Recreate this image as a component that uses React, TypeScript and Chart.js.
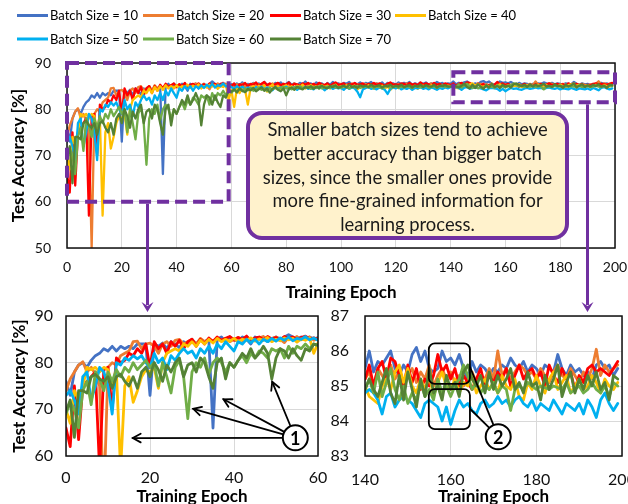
import React, { useEffect, useRef } from "react";
import { Chart, registerables } from "chart.js";

Chart.register(...registerables);
Chart.defaults.font.family = "Lato, 'Open Sans', sans-serif";

const seriesNames = [
  "Batch Size = 10",
  "Batch Size = 20",
  "Batch Size = 30",
  "Batch Size = 40",
  "Batch Size = 50",
  "Batch Size = 60",
  "Batch Size = 70",
];
const seriesColors = ["#4472C4", "#ED7D31", "#FF0000", "#FFC000", "#00B0F0", "#70AD47", "#548235"];

// test accuracy per epoch (epochs 0..199)
const acc10 = [
  76, 73, 78, 79.5, 80, 79, 80.5, 81.5, 82, 83,
  82.5, 83.5, 82.5, 83.5, 83, 83.5, 83, 84, 84, 84,
  73, 84, 83.5, 84.2, 83, 84.5, 84, 83.2, 84.5, 84,
  85, 84, 85, 84.5, 85, 66, 85, 85.5, 84.5, 85.5,
  85, 84.5, 85.5, 85, 84, 85.5, 85, 85.5, 84.5, 85,
  85.5, 85, 85.5, 86, 85.5, 85, 85.5, 85, 85.5, 85,
  85.4, 85.0, 85.6, 85.2, 85.8, 84.9, 85.5, 85.3, 85.7, 85.1,
  85.6, 85.2, 85.9, 85.3, 85.5, 85.0, 85.7, 85.4, 85.8, 85.2,
  85.5, 85.9, 85.3, 85.6, 85.1, 85.7, 85.4, 86.0, 85.3, 85.6,
  85.2, 85.8, 85.4, 85.6, 85.0, 85.7, 85.3, 85.9, 85.4, 85.6,
  85.3, 85.7, 85.5, 85.9, 85.2, 85.6, 85.4, 85.8, 85.3, 85.7,
  85.5, 85.9, 85.3, 85.6, 85.4, 85.8, 85.2, 85.7, 85.5, 85.6,
  85.3, 85.8, 85.4, 85.7, 85.5, 85.9, 85.3, 85.6, 85.4, 85.7,
  85.5, 85.8, 85.3, 85.6, 85.4, 85.9, 85.5, 85.7, 85.3, 85.6,
  85.5, 86.0, 85.4, 85.7, 85.6, 85.8, 86.0, 85.5, 85.3, 85.6,
  85.4, 85.9, 86.1, 85.7, 86.0, 85.5, 85.4, 85.5, 86.0, 85.7,
  85.8, 85.6, 85.9, 85.5, 85.2, 85.7, 85.4, 85.6, 85.5, 85.3,
  85.5, 85.4, 85.6, 85.5, 85.8, 85.6, 85.5, 85.7, 85.4, 85.6,
  85.5, 85.3, 85.6, 85.5, 85.4, 85.9, 85.5, 85.3, 85.6, 85.4,
  85.5, 85.3, 85.4, 85.2, 85.6, 85.7, 85.5, 85.6, 85.3, 85.5,
];
const acc20 = [
  74, 76.5, 78, 79.5, 80.2, 78, 79, 77.5, 75, 50,
  79, 80, 79.5, 81.5, 82, 82.5, 84.5, 84.6, 83, 84,
  84.2, 83.5, 82, 84, 84.5, 83.5, 84.8, 85, 84, 84.5,
  85, 84, 85.2, 84.5, 85, 84.6, 85.3, 84.8, 85.2, 84.5,
  85, 85.4, 84.7, 85.5, 85, 84.8, 85.3, 85.6, 84.8, 85.2,
  85.5, 85, 84.3, 85.4, 85.1, 85.6, 84.9, 85.3, 85.5, 84.8,
  85.2, 84.6, 85.4, 85.0, 85.5, 84.9, 85.3, 85.1, 85.6, 85.0,
  85.4, 84.8, 85.5, 85.2, 85.0, 85.6, 85.1, 85.3, 84.9, 85.5,
  85.2, 85.4, 84.9, 85.6, 85.1, 85.3, 85.0, 85.5, 85.2, 84.8,
  85.4, 85.1, 85.6, 85.0, 85.3, 85.5, 84.9, 85.2, 85.4, 85.1,
  85.5, 85.0, 85.3, 85.2, 85.6, 84.9, 85.4, 85.1, 85.3, 85.5,
  85.0, 85.4, 85.2, 85.6, 85.1, 85.3, 84.9, 85.5, 85.2, 85.4,
  85.1, 85.5, 85.0, 85.3, 85.6, 85.2, 85.4, 84.9, 85.3, 85.5,
  85.2, 85.0, 85.4, 85.6, 85.1, 85.3, 85.5, 85.0, 85.4, 85.2,
  85.2, 85.4, 85.0, 85.5, 85.3, 85.1, 85.6, 85.2, 85.4, 84.9,
  85.3, 85.5, 85.1, 85.4, 85.2, 85.6, 85.0, 85.3, 85.5, 85.2,
  85.4, 85.1, 85.3, 85.0, 85.2, 85.4, 85.1, 85.3, 85.2, 85.5,
  85.2, 86.0, 85.3, 85.5, 85.2, 85.4, 85.6, 85.5, 85.3, 85.4,
  85.2, 85.5, 85.3, 85.1, 85.4, 85.6, 85.3, 85.2, 85.5, 85.3,
  85.1, 85.4, 85.2, 85.5, 86.05, 85.3, 85.6, 85.4, 85.5, 85.6,
];
const acc30 = [
  66, 62, 75, 63.5, 75, 76, 77, 78, 57, 78.5,
  79, 70, 81, 80, 80.5, 82, 81.5, 83, 82, 84,
  79, 84.5, 83, 84, 82, 84.5, 83.5, 84.8, 83, 84.5,
  85, 83.5, 85, 84, 85.3, 84.5, 85.5, 84.8, 85.2, 85.6,
  84.8, 85.4, 85, 85.7, 84.6, 85.3, 85.5, 84.9, 85.6, 85.1,
  85.4, 84.8, 85.6, 85.2, 85.5, 84.9, 85.4, 85.7, 85.1, 85.3,
  85.0, 85.6, 84.6, 85.4, 85.2, 85.7, 85.0, 85.5, 85.3, 85.8,
  85.1, 85.5, 85.9, 85.2, 85.6, 85.0, 85.4, 85.7, 85.2, 85.5,
  85.3, 85.8, 85.1, 85.5, 85.4, 85.0, 85.6, 85.3, 85.7, 85.2,
  85.5, 85.1, 85.7, 85.4, 85.2, 85.6, 85.0, 85.5, 85.8, 85.3,
  85.4, 85.6, 85.1, 85.5, 85.3, 85.7, 85.2, 85.4, 85.6, 85.0,
  85.5, 85.3, 85.7, 85.2, 85.6, 85.4, 85.1, 85.5, 85.8, 85.3,
  85.4, 85.2, 85.6, 85.5, 85.1, 85.7, 85.3, 85.5, 85.2, 85.8,
  85.3, 85.6, 85.4, 85.1, 85.7, 85.3, 85.5, 85.2, 85.6, 85.4,
  85.2, 85.6, 85.0, 85.5, 85.7, 85.2, 85.8, 85.7, 85.3, 85.0,
  85.6, 85.1, 85.5, 84.9, 85.2, 85.0, 85.3, 85.9, 85.4, 85.6,
  85.2, 85.5, 85.0, 85.3, 85.1, 84.9, 85.2, 85.5, 85.0, 85.3,
  85.1, 85.4, 85.2, 85.5, 85.0, 85.3, 85.6, 85.2, 85.4, 85.5,
  85.2, 85.4, 85.0, 85.6, 85.3, 85.1, 85.5, 85.2, 85.4, 84.9,
  85.3, 85.1, 85.5, 85.6, 85.4, 85.5, 85.4, 85.3, 85.5, 85.7,
];
const acc40 = [
  70, 67, 74, 72, 75, 79, 78.5, 79, 78, 79,
  78.5, 75, 78, 57, 75, 77, 71.5, 74, 77, 78.5,
  78, 79, 74.5, 80, 82, 82.5, 83, 82.5, 84, 83.5,
  84.5, 83.5, 84.8, 84, 85, 84.2, 85.2, 84.5, 85, 84.6,
  85.2, 84.5, 85, 84.8, 85.3, 84.6, 85.1, 84.8, 85.4, 84.5,
  85, 84.7, 85.3, 84.9, 85.2, 84.4, 85.1, 84.8, 85.3, 82,
  84.2, 80.5, 84.5, 83.5, 84.8, 84.2, 81, 84.6, 85, 84.4,
  85.1, 84.7, 85.2, 83.8, 84.9, 85.3, 84.5, 85, 84.2, 84.9,
  85.2, 84.6, 85.0, 84.3, 85.1, 84.8, 85.3, 84.5, 84.9, 85.2,
  84.7, 85.0, 84.4, 85.2, 84.8, 85.1, 84.5, 84.9, 85.3, 84.6,
  85.0, 84.7, 85.2, 84.5, 84.9, 85.1, 84.3, 84.8, 85.0, 84.6,
  85.2, 84.8, 84.4, 85.0, 84.7, 85.1, 84.5, 84.9, 84.2, 84.8,
  85.0, 84.6, 85.2, 84.8, 84.5, 85.0, 84.7, 85.1, 84.4, 84.9,
  85.1, 84.7, 84.9, 85.2, 84.6, 84.8, 85.0, 84.5, 84.9, 85.1,
  85.0, 84.7, 84.6, 84.5, 85.0, 85.2, 84.9, 85.4, 85.6, 85.1,
  85.5, 85.0, 84.8, 85.2, 84.9, 85.3, 84.7, 85.1, 85.4, 85.0,
  84.9, 85.2, 84.8, 85.1, 85.0, 85.3, 84.8, 85.0, 85.2, 84.9,
  85.1, 84.8, 85.3, 85.0, 84.9, 85.2, 84.7, 84.6, 85.1, 84.9,
  85.3, 85.0, 84.8, 85.2, 85.4, 84.9, 85.1, 85.3, 84.8, 85.0,
  85.2, 84.9, 85.0, 85.3, 85.1, 84.8, 85.2, 85.0, 84.9, 85.1,
];
const acc50 = [
  73, 74, 72, 69, 77, 78, 72, 75, 79, 78,
  75, 69, 80, 79.5, 81, 80.5, 81.5, 80.8, 81.5, 80,
  79, 82, 80, 81, 78.5, 81.5, 80.5, 82, 83, 82,
  82.5, 81, 83, 82, 83.5, 82, 84, 83, 84.5, 83.5,
  82.5, 84.5, 84, 85, 84.3, 85, 84, 85, 84.5, 85.2,
  84.6, 85.3, 84.8, 85.5, 84.7, 85.2, 85, 85.6, 84.9, 85.3,
  84.8, 84.4, 85.0, 84.5, 84.9, 84.3, 84.7, 84.6, 84.2, 84.8,
  84.5, 84.9, 84.3, 84.7, 84.6, 84.1, 84.8, 84.4, 84.7, 84.5,
  84.9, 84.3, 84.6, 84.8, 84.2, 84.7, 84.5, 84.9, 84.4, 84.6,
  84.3, 84.8, 84.5, 84.7, 84.1, 84.6, 84.8, 84.4, 84.7, 84.5,
  84.6, 84.2, 84.8, 84.4, 84.7, 84.5, 83.8, 82.6, 84.3, 84.6,
  84.8, 84.4, 84.6, 84.3, 84.7, 84.5, 84.2, 83.3, 84.4, 84.7,
  84.5, 84.8, 84.3, 84.6, 84.4, 84.7, 84.2, 84.6, 84.5, 84.8,
  84.4, 84.6, 84.3, 84.7, 84.5, 84.2, 84.6, 84.4, 84.7, 84.5,
  84.8, 84.9, 84.8, 84.6, 84.2, 84.7, 84.8, 84.4, 84.6, 84.7,
  84.6, 84.5, 84.3, 84.1, 84.5, 84.6, 84.5, 84.4, 84.0, 84.4,
  83.9, 84.3, 84.6, 84.4, 84.5, 84.3, 84.2, 84.5, 84.6, 84.4,
  84.5, 84.7, 84.5, 84.6, 84.4, 84.6, 84.7, 84.5, 84.4, 84.6,
  84.3, 84.5, 84.4, 84.3, 84.6, 84.4, 84.2, 84.5, 84.4, 84.3,
  84.5, 84.2, 84.6, 84.4, 84.1, 84.6, 84.8, 84.5, 84.3, 84.5,
];
const acc60 = [
  69, 71.5, 70, 66, 74, 76, 71, 78, 76.5, 74,
  78, 76, 78.5, 77, 79, 78, 80, 78.5, 79.5, 80.5,
  79, 80, 75, 80, 77, 73.5, 79, 80.5, 77, 68,
  78, 80, 79, 81, 77.5, 80, 81, 80, 78, 80,
  79, 80.5, 81.5, 80, 82, 81, 82.5, 82, 81, 83,
  82.5, 83, 81, 83.5, 82, 83.5, 83, 84, 83, 84,
  83.6, 84.2, 83.8, 84.4, 83.9, 84.5, 84.1, 84.6, 84.0, 84.3,
  84.7, 84.2, 84.5, 84.0, 84.6, 84.3, 84.8, 84.4, 84.6, 84.9,
  84.5, 84.7, 84.3, 84.8, 84.6, 85.0, 84.5, 84.7, 84.9, 84.4,
  84.8, 84.6, 85.0, 84.5, 84.7, 84.9, 84.6, 85.1, 84.7, 84.8,
  84.6, 85.0, 84.8, 84.5, 84.9, 84.7, 85.1, 84.6, 84.8, 85.0,
  84.7, 84.9, 84.6, 85.0, 84.8, 84.5, 84.9, 85.1, 84.7, 84.8,
  85.0, 84.6, 84.9, 84.7, 85.1, 84.8, 84.6, 85.0, 84.9, 84.7,
  84.9, 85.1, 84.7, 84.8, 85.0, 84.6, 84.9, 85.2, 84.8, 85.0,
  84.9, 85.2, 84.8, 85.4, 84.7, 85.1, 85.5, 84.9, 84.6, 85.0,
  84.5, 84.8, 84.6, 85.1, 84.7, 84.9, 84.6, 85.2, 84.8, 85.0,
  84.7, 85.0, 85.2, 85.6, 85.3, 84.9, 85.1, 84.8, 85.0, 84.9,
  85.1, 84.8, 85.0, 84.9, 84.3, 84.9, 85.0, 84.9, 85.1, 85.0,
  84.9, 85.0, 84.95, 84.9, 85.0, 84.95, 84.9, 85.1, 84.8, 84.9,
  85.0, 84.8, 84.9, 85.1, 84.9, 84.8, 85.0, 84.7, 85.1, 85.0,
];
const acc70 = [
  69.5, 72, 64, 74, 74, 73.5, 77, 77.5, 76.5, 76,
  77, 74.5, 77, 77.5, 76, 75, 77, 74.5, 78, 79,
  77, 80, 78.5, 76, 79.5, 78, 80, 81, 77, 79.5,
  80, 78, 81, 80, 77, 74.5, 80, 81, 76.5, 80,
  79, 80.5, 82, 81, 83, 81, 82, 83.5, 82, 76.5,
  81, 83, 82.5, 81, 83, 81.5, 80.5, 83, 82.5, 84,
  83.8, 84.3, 83.6, 84.5, 84.0, 83.7, 84.4, 84.1, 84.6, 83.9,
  84.3, 84.7, 84.0, 84.5, 83.6, 84.4, 84.8, 84.2, 83.9, 84.5,
  83.0, 84.4, 84.7, 84.2, 84.9, 84.5, 84.3, 84.8, 84.6, 85.0,
  84.4, 84.9, 84.6, 85.1, 84.7, 84.5, 85.0, 84.8, 85.2, 84.6,
  84.9, 85.1, 84.7, 85.3, 84.8, 85.0, 84.6, 85.2, 84.9, 85.1,
  84.8, 85.3, 84.9, 85.0, 85.2, 84.7, 85.1, 84.9, 85.3, 84.8,
  85.1, 84.9, 85.3, 84.8, 85.0, 85.2, 84.7, 85.1, 84.9, 85.3,
  84.8, 85.2, 85.0, 84.9, 85.3, 84.7, 85.1, 85.0, 85.2, 84.9,
  84.9, 85.2, 84.9, 84.7, 85.1, 85.5, 84.8, 84.5, 85.3, 84.6,
  85.4, 84.9, 84.4, 85.2, 84.7, 85.5, 84.8, 85.0, 84.6, 85.3,
  84.9, 85.1, 84.7, 85.4, 85.6, 85.2, 85.0, 85.3, 84.8, 85.4,
  84.9, 85.3, 85.0, 85.2, 85.5, 84.9, 85.1, 84.8, 85.4, 85.0,
  85.1, 84.6, 85.3, 84.9, 85.2, 85.6, 84.7, 85.1, 85.4, 84.8,
  85.2, 84.9, 85.3, 85.0, 85.4, 84.9, 85.1, 84.6, 85.3, 85.2,
];
const seriesValues = [acc10, acc20, acc30, acc40, acc50, acc60, acc70];

const boxLines = [
  "Smaller batch sizes tend to achieve",
  "better accuracy than bigger batch",
  "sizes, since the smaller ones provide",
  "more fine-grained information for",
  "learning process.",
];

// annotation anchors, in data units
const zoomBoxes = [
  { x0: 0, x1: 59, y0: 90, y1: 60, arrowX: 29.3 },
  { x0: 141, x1: 200, y0: 88, y1: 81.5, arrowX: 189.8 },
];
const mark1 = { x: 54.6, y: 63.9 };
const mark1Targets = [
  { x: 15.9, y: 63.85 },
  { x: 30.3, y: 70.1 },
  { x: 37.5, y: 72.15 },
  { x: 49.1, y: 75.9 },
];
const mark2 = { x: 171.1, y: 83.55 };
const mark2Boxes = [
  { x0: 154.9, x1: 164.5, y0: 86.22, y1: 85.06, linkY: 85.55 },
  { x0: 154.9, x1: 164.5, y0: 84.91, y1: 83.77, linkY: 84.35 },
];

const PURPLE = "#7030A0";

// legend layout (pixels): four columns, two rows
const LEGEND_COLS = [17, 143, 270, 395];
const LEGEND_ROWS = [15.5, 39];

const legendPlugin = {
  id: "gridLegend",
  afterDraw(chart: any) {
    const { ctx } = chart;
    ctx.save();
    ctx.font = "13px Lato, sans-serif";
    ctx.textBaseline = "middle";
    ctx.textAlign = "left";
    chart.data.datasets.forEach((ds: any, i: number) => {
      const x = LEGEND_COLS[i % 4];
      const y = LEGEND_ROWS[Math.floor(i / 4)];
      ctx.fillStyle = ds.borderColor;
      ctx.fillRect(x, y - 1.5, 31, 3);
      ctx.fillStyle = "#000";
      ctx.fillText(ds.label, x + 33, y + 0.5);
    });
    ctx.restore();
  },
};

const framePlugin = {
  id: "frame",
  afterDatasetsDraw(chart: any) {
    const { ctx, chartArea: a } = chart;
    ctx.save();
    ctx.strokeStyle = "#111";
    ctx.lineWidth = 1.5;
    ctx.strokeRect(a.left, a.top, a.right - a.left, a.bottom - a.top);
    ctx.restore();
  },
};

function stealthHead(ctx: CanvasRenderingContext2D, x: number, y: number, ang: number, len: number, half: number) {
  ctx.save();
  ctx.translate(x, y);
  ctx.rotate(ang);
  ctx.beginPath();
  ctx.moveTo(0, 0);
  ctx.lineTo(-len, -half);
  ctx.lineTo(-len * 0.6, 0);
  ctx.lineTo(-len, half);
  ctx.closePath();
  ctx.fill();
  ctx.restore();
}

function openArrow(ctx: CanvasRenderingContext2D, x1: number, y1: number, x2: number, y2: number, head: number) {
  ctx.beginPath();
  ctx.moveTo(x1, y1);
  ctx.lineTo(x2, y2);
  ctx.stroke();
  const a = Math.atan2(y2 - y1, x2 - x1);
  ctx.beginPath();
  ctx.moveTo(x2 - head * Math.cos(a - 0.5), y2 - head * Math.sin(a - 0.5));
  ctx.lineTo(x2, y2);
  ctx.lineTo(x2 - head * Math.cos(a + 0.5), y2 - head * Math.sin(a + 0.5));
  ctx.stroke();
}

function circleLabel(ctx: CanvasRenderingContext2D, cx: number, cy: number, r: number, text: string) {
  ctx.beginPath();
  ctx.arc(cx, cy, r, 0, Math.PI * 2);
  ctx.fillStyle = "#fff";
  ctx.fill();
  ctx.lineWidth = 2;
  ctx.strokeStyle = "#000";
  ctx.stroke();
  ctx.fillStyle = "#000";
  ctx.font = "bold 18px Lato, sans-serif";
  ctx.textAlign = "center";
  ctx.textBaseline = "middle";
  ctx.fillText(text, cx, cy + 1);
}

function roundRect(ctx: CanvasRenderingContext2D, x: number, y: number, w: number, h: number, r: number) {
  ctx.beginPath();
  ctx.moveTo(x + r, y);
  ctx.arcTo(x + w, y, x + w, y + h, r);
  ctx.arcTo(x + w, y + h, x, y + h, r);
  ctx.arcTo(x, y + h, x, y, r);
  ctx.arcTo(x, y, x + w, y, r);
  ctx.closePath();
}

function annotateTop(chart: any) {
  const { ctx } = chart;
  const xs = chart.scales.x;
  const ys = chart.scales.y;
  ctx.save();
  ctx.strokeStyle = PURPLE;
  ctx.fillStyle = PURPLE;
  ctx.lineWidth = 4;
  ctx.setLineDash([12, 6]);
  for (const b of zoomBoxes) {
    const l = xs.getPixelForValue(b.x0);
    const r = xs.getPixelForValue(b.x1);
    const t = ys.getPixelForValue(b.y0);
    const btm = ys.getPixelForValue(b.y1);
    ctx.strokeRect(l, t, r - l, btm - t);
  }
  ctx.setLineDash([]);
  ctx.lineWidth = 3;
  for (const b of zoomBoxes) {
    const ax = Math.round(xs.getPixelForValue(b.arrowX)) + 0.5;
    const y0 = ys.getPixelForValue(b.y1) + 2;
    ctx.beginPath();
    ctx.moveTo(ax, y0);
    ctx.lineTo(ax, 305);
    ctx.stroke();
    stealthHead(ctx, ax, 312, Math.PI / 2, 10, 6);
  }
  ctx.restore();
}

function annotateLeft(chart: any) {
  const { ctx } = chart;
  const xs = chart.scales.x;
  const ys = chart.scales.y;
  const cx = xs.getPixelForValue(mark1.x);
  const cy = ys.getPixelForValue(mark1.y);
  const r = 12.5;
  ctx.save();
  ctx.strokeStyle = "#000";
  ctx.lineWidth = 1.8;
  ctx.lineCap = "round";
  for (const t of mark1Targets) {
    const tx = xs.getPixelForValue(t.x);
    const ty = ys.getPixelForValue(t.y);
    const d = Math.hypot(tx - cx, ty - cy);
    const sx = cx + ((tx - cx) / d) * r;
    const sy = cy + ((ty - cy) / d) * r;
    openArrow(ctx, sx, sy, tx, ty, 9);
  }
  circleLabel(ctx, cx, cy, r, "1");
  ctx.restore();
}

function annotateRight(chart: any) {
  const { ctx } = chart;
  const xs = chart.scales.x;
  const ys = chart.scales.y;
  const cx = xs.getPixelForValue(mark2.x);
  const cy = ys.getPixelForValue(mark2.y);
  const r = 12.5;
  ctx.save();
  ctx.strokeStyle = "#000";
  ctx.lineWidth = 1.8;
  for (const b of mark2Boxes) {
    const l = xs.getPixelForValue(b.x0);
    const rr = xs.getPixelForValue(b.x1);
    const t = ys.getPixelForValue(b.y0);
    const btm = ys.getPixelForValue(b.y1);
    roundRect(ctx, l, t, rr - l, btm - t, 6);
    ctx.stroke();
  }
  for (const b of mark2Boxes) {
    const tx = xs.getPixelForValue(b.x1);
    const ty = ys.getPixelForValue(b.linkY);
    const d = Math.hypot(tx - cx, ty - cy);
    ctx.beginPath();
    ctx.moveTo(tx, ty);
    ctx.lineTo(cx + ((tx - cx) / d) * r, cy + ((ty - cy) / d) * r);
    ctx.stroke();
  }
  circleLabel(ctx, cx, cy, r, "2");
  ctx.restore();
}

type Opts = {
  xmin: number; xmax: number; xstep: number;
  ymin: number; ymax: number; ystep: number;
  yw: number; xh: number; padTopY: number;
  padding: any; xTickPad: number; yTickPad: number; tickSize: number;
  yTitle: boolean; yTitlePt: number; xTitlePb: number;
  legend: boolean; lw: number;
  annotate: (c: any) => void;
};

function build(canvas: HTMLCanvasElement, o: Opts) {
  const tickFont = { size: o.tickSize };
  const titleFont = { size: 17, weight: "bold" as const };
  const plugins: any[] = [framePlugin, { id: "ann", afterDraw: o.annotate }];
  if (o.legend) plugins.push(legendPlugin);
  return new Chart(canvas, {
    type: "line",
    data: {
      datasets: seriesNames.map((name, i) => ({
        label: name,
        data: seriesValues[i].map((v, k) => ({ x: k, y: v })),
        borderColor: seriesColors[i],
        backgroundColor: seriesColors[i],
        borderWidth: o.lw,
        pointRadius: 0,
        pointHoverRadius: 0,
        tension: 0,
        fill: false,
        borderJoinStyle: "round" as const,
        borderCapStyle: "round" as const,
        order: seriesNames.length - 1 - i,
      })),
    },
    options: {
      responsive: false,
      animation: false,
      devicePixelRatio: 1,
      events: [],
      layout: { padding: o.padding },
      plugins: {
        tooltip: { enabled: false },
        legend: { display: false },
      },
      scales: {
        x: {
          type: "linear",
          min: o.xmin,
          max: o.xmax,
          ticks: { stepSize: o.xstep, font: tickFont, color: "#111", padding: o.xTickPad, maxRotation: 0, autoSkip: false },
          grid: { color: "#D9D9D9", lineWidth: 1, drawTicks: false },
          border: { display: false },
          title: { display: true, text: "Training Epoch", font: titleFont, color: "#000", padding: { top: 0, bottom: o.xTitlePb } },
          afterFit: (s: any) => {
            s.height = o.xh;
            s.paddingLeft = 0;
            s.paddingRight = 0;
          },
        },
        y: {
          type: "linear",
          min: o.ymin,
          max: o.ymax,
          ticks: { stepSize: o.ystep, font: tickFont, color: "#111", padding: o.yTickPad },
          grid: { color: "#D9D9D9", lineWidth: 1, drawTicks: false },
          border: { display: false },
          title: { display: o.yTitle, text: "Test Accuracy [%]", font: titleFont, color: "#000", padding: { top: o.yTitlePt, bottom: 0 } },
          afterFit: (s: any) => {
            s.width = o.yw;
            s.paddingTop = o.padTopY;
            s.paddingBottom = 0;
          },
        },
      },
    } as any,
    plugins,
  });
}

export default function App() {
  const topRef = useRef<HTMLCanvasElement>(null);
  const leftRef = useRef<HTMLCanvasElement>(null);
  const rightRef = useRef<HTMLCanvasElement>(null);

  useEffect(() => {
    document.body.style.margin = "0";
    const charts = [
      build(topRef.current!, {
        xmin: 0, xmax: 200, xstep: 20, ymin: 50, ymax: 90, ystep: 10,
        yw: 59, xh: 58, padTopY: 63,
        padding: { left: 8, right: 13, top: 0, bottom: 198 },
        xTickPad: 11, yTickPad: 16, tickSize: 14, yTitle: true, yTitlePt: 0, xTitlePb: 3,
        legend: true, lw: 2.3, annotate: annotateTop,
      }),
      build(leftRef.current!, {
        xmin: 0, xmax: 60, xstep: 20, ymin: 60, ymax: 90, ystep: 10,
        yw: 66, xh: 64, padTopY: 0,
        padding: { left: 0, right: 22, top: 16, bottom: 0 },
        xTickPad: 12, yTickPad: 13, tickSize: 16, yTitle: true, yTitlePt: 9, xTitlePb: 13,
        legend: false, lw: 2.8, annotate: annotateLeft,
      }),
      build(rightRef.current!, {
        xmin: 140, xmax: 200, xstep: 20, ymin: 83, ymax: 87, ystep: 1,
        yw: 45, xh: 64, padTopY: 0,
        padding: { left: 0, right: 28, top: 16, bottom: 0 },
        xTickPad: 14, yTickPad: 16, tickSize: 16, yTitle: false, yTitlePt: 0, xTitlePb: 13,
        legend: false, lw: 2.8, annotate: annotateRight,
      }),
    ];
    return () => charts.forEach((c) => c.destroy());
  }, []);

  return (
    <div style={{ position: "fixed", left: 0, top: 0, width: 628, height: 504, overflow: "hidden", background: "#fff" }}>
      <canvas ref={topRef} width={628} height={504} style={{ position: "absolute", left: 0, top: 0 }} />
      <div
        style={{
          position: "absolute",
          left: 246,
          top: 111,
          width: 323,
          height: 129,
          boxSizing: "border-box",
          border: `4px solid ${PURPLE}`,
          borderRadius: 16,
          background: "#FFF2CC",
          display: "flex",
          flexDirection: "column",
          justifyContent: "center",
          alignItems: "center",
          paddingTop: 4,
          fontFamily: "Lato, sans-serif",
          fontSize: 18.4,
          lineHeight: "23.75px",
          color: "#1a1a1a",
          whiteSpace: "nowrap",
        }}
      >
        {boxLines.map((t) => (
          <div key={t}>{t}</div>
        ))}
      </div>
      <canvas ref={leftRef} width={340} height={220} style={{ position: "absolute", left: 0, top: 300 }} />
      <canvas ref={rightRef} width={330} height={220} style={{ position: "absolute", left: 320, top: 300 }} />
    </div>
  );
}
